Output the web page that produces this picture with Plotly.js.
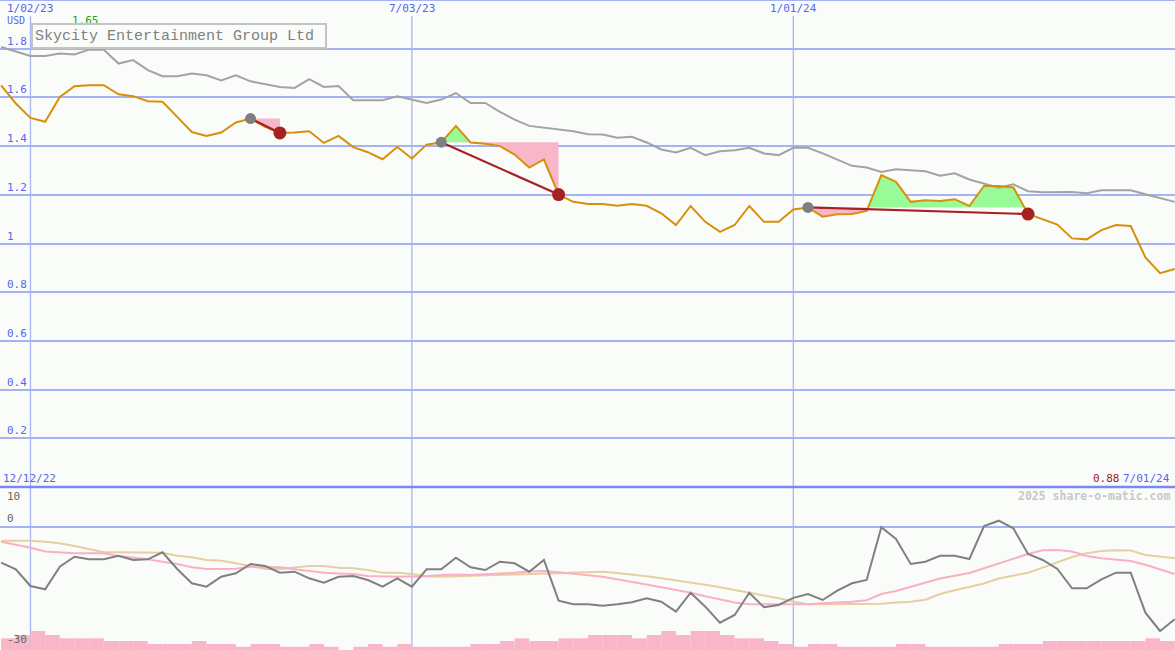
<!DOCTYPE html>
<html>
<head>
<meta charset="utf-8">
<script src="https://cdn.plot.ly/plotly-3.0.1.min.js"></script>
<style>
  html, body { margin: 0; padding: 0; background: #fafcfa; }
  #chart { width: 1175px; height: 650px; }
</style>
</head>
<body>
<div id="chart"></div>
<script>
// ---------------- data ----------------
const dates = [
  '2022-12-19','2022-12-26','2023-01-02','2023-01-09','2023-01-16','2023-01-23','2023-01-30',
  '2023-02-06','2023-02-13','2023-02-20','2023-02-27','2023-03-06','2023-03-13','2023-03-20','2023-03-27',
  '2023-04-03','2023-04-10','2023-04-17','2023-04-24','2023-05-01','2023-05-08','2023-05-15','2023-05-22','2023-05-29',
  '2023-06-05','2023-06-12','2023-06-19','2023-06-26','2023-07-03','2023-07-10','2023-07-17','2023-07-24','2023-07-31',
  '2023-08-07','2023-08-14','2023-08-21','2023-08-28','2023-09-04','2023-09-11','2023-09-18','2023-09-25',
  '2023-10-02','2023-10-09','2023-10-16','2023-10-23','2023-10-30','2023-11-06','2023-11-13','2023-11-20','2023-11-27',
  '2023-12-04','2023-12-11','2023-12-18','2023-12-25','2024-01-01','2024-01-08','2024-01-15','2024-01-22','2024-01-29',
  '2024-02-05','2024-02-12','2024-02-19','2024-02-26','2024-03-04','2024-03-11','2024-03-18','2024-03-25',
  '2024-04-01','2024-04-08','2024-04-15','2024-04-22','2024-04-29','2024-05-06','2024-05-13','2024-05-20','2024-05-27',
  '2024-06-03','2024-06-10','2024-06-17','2024-06-24','2024-07-01'
];

// share price (USD)
const price = [
  1.649,1.575,1.516,1.500,1.602,1.646,1.650,1.650,1.613,1.605,
  1.584,1.582,1.520,1.458,1.442,1.456,1.497,1.513,1.479,1.454,
  1.456,1.461,1.413,1.442,1.396,1.375,1.346,1.396,1.349,1.406,
  1.416,1.483,1.415,1.410,1.400,1.365,1.312,1.345,1.201,1.171,
  1.162,1.162,1.155,1.162,1.155,1.124,1.076,1.154,1.089,1.048,
  1.076,1.154,1.089,1.089,1.140,1.148,1.110,1.120,1.121,1.134,
  1.281,1.253,1.171,1.178,1.175,1.182,1.154,1.236,1.236,1.230,
  1.121,1.100,1.078,1.021,1.017,1.055,1.076,1.072,0.943,0.878,
  0.895
];

// comparison index (scaled)
const indexLine = [
  1.807,1.787,1.770,1.770,1.780,1.776,1.796,1.796,1.739,1.753,
  1.712,1.687,1.687,1.698,1.691,1.670,1.691,1.666,1.653,1.643,
  1.639,1.675,1.643,1.647,1.588,1.588,1.588,1.605,1.591,1.577,
  1.591,1.618,1.577,1.577,1.541,1.509,1.483,1.475,1.470,1.461,
  1.449,1.448,1.434,1.438,1.415,1.386,1.374,1.393,1.363,1.379,
  1.383,1.393,1.370,1.363,1.393,1.393,1.370,1.346,1.319,1.312,
  1.294,1.305,1.301,1.297,1.278,1.288,1.263,1.247,1.229,1.243,
  1.215,1.210,1.212,1.212,1.206,1.219,1.219,1.219,1.202,1.188,
  1.171
];

// lower panel: oscillator and its two averages
const oscillator = [
  -8.78,-10.42,-14.57,-15.38,-9.78,-7.30,-7.94,-7.94,-7.05,-8.11,
  -7.94,-6.20,-10.35,-13.90,-14.74,-12.26,-11.41,-9.11,-9.60,-11.27,
  -11.02,-12.66,-13.75,-12.26,-12.08,-13.08,-14.74,-12.66,-14.74,-10.42,
  -10.42,-7.54,-9.93,-10.60,-8.54,-8.93,-11.02,-8.11,-18.21,-19.11,
  -19.11,-19.45,-19.11,-18.61,-17.62,-18.46,-20.94,-16.23,-19.70,-23.67,
  -21.76,-16.23,-19.85,-19.28,-17.50,-16.55,-18.04,-15.73,-13.90,-13.08,
  0.00,-2.90,-9.11,-8.54,-7.05,-7.05,-7.87,0.32,1.64,-0.25,
  -6.63,-8.11,-10.35,-15.14,-15.14,-12.90,-11.27,-11.27,-21.19,-25.73,
  -22.83
];
const avgFast = [
  -3.57,-4.27,-5.06,-6.00,-6.30,-6.45,-6.45,-6.45,-7.12,-7.49,
  -7.94,-8.54,-9.11,-9.93,-10.35,-10.35,-10.27,-9.78,-9.78,-9.93,
  -10.42,-10.84,-11.27,-11.46,-11.59,-12.08,-12.21,-12.26,-12.21,-12.13,
  -11.84,-11.71,-11.84,-11.71,-11.51,-11.27,-10.97,-10.84,-11.17,-11.46,
  -11.91,-12.28,-12.88,-13.52,-14.19,-14.89,-15.56,-16.23,-17.12,-17.97,
  -18.66,-19.11,-19.11,-19.11,-19.11,-19.11,-18.86,-18.66,-18.49,-18.09,
  -16.55,-15.81,-14.81,-13.75,-12.73,-12.03,-11.34,-10.17,-8.98,-7.74,
  -6.63,-5.71,-5.63,-6.00,-7.12,-7.69,-7.94,-8.36,-9.28,-10.35,
  -11.59
];
const avgSlow = [
  -3.33,-3.33,-3.33,-3.57,-3.97,-4.64,-5.51,-6.20,-6.20,-6.20,
  -6.20,-6.30,-7.05,-7.44,-8.11,-8.29,-8.93,-9.73,-10.35,-10.35,
  -10.02,-9.60,-9.60,-10.02,-10.17,-10.60,-11.27,-11.27,-11.59,-12.16,
  -12.26,-12.16,-12.08,-11.96,-11.79,-11.64,-11.59,-11.59,-11.46,-11.34,
  -11.17,-11.02,-11.34,-11.66,-12.16,-12.66,-13.15,-13.65,-14.27,-14.89,
  -15.56,-16.18,-16.87,-17.62,-18.41,-19.11,-19.11,-19.11,-19.11,-19.03,
  -18.98,-18.66,-18.46,-17.99,-16.55,-15.63,-14.81,-13.95,-12.70,-11.96,
  -11.27,-10.02,-8.68,-7.37,-6.45,-5.88,-5.68,-5.76,-6.87,-7.37,
  -7.69
];
// weekly volume (relative units)
const volume = [
  11.7,15,19,15,11.7,11.7,11.7,9,9,9,
  6,6,6,9,6,6,3.3,6,6,3.3,
  3.3,6,3.3,0,3.3,6,3.3,6,3.3,3.3,
  3.3,3.3,6,6,9,11.7,9,9,11.7,11.7,
  15,15,15,11.7,15,19,15,19,19,15,
  11.7,11.7,9,6,3.3,6,6,3.3,3.3,3.3,
  3.3,6,6,3.3,3.3,3.3,3.3,3.3,6,6,
  6,9,9,9,9,9,9,9,11.7,9,
  9
];

// trade signals (entry -> exit)
const signalStart = ['2023-04-17','2023-07-17','2024-01-08'];
const signalEnd   = ['2023-05-01','2023-09-11','2024-04-22'];

// labels
const chartTitle = 'Skycity Entertainment Group Ltd';
const currency = 'USD';
const xTickDates  = ['2023-01-02','2023-07-03','2024-01-01'];
const xTickLabels = ['1/02/23','7/03/23','1/01/24'];
const yTickVals   = [1.8,1.6,1.4,1.2,1,0.8,0.6,0.4,0.2];
const yTickLabels = ['1.8','1.6','1.4','1.2','1','0.8','0.6','0.4','0.2'];
const y2TickVals   = [10,0,-30];
const y2TickLabels = ['10','0','-30'];
const firstLabel = '12/12/22';
const lastLabel = '7/01/24';
const credit = '2025 share-o-matic.com';

// ---------------- styling ----------------
const BG = '#fafcfa';
const GRID = '#a5b3f2';
const VGRID = '#a8b5f2';
const BLUE = '#5566ee';
const MONO = 'DejaVu Sans Mono, Liberation Mono, monospace';
const SPLIT = 163 / 650;
const PINK = '#f9b6c8';
const GREEN = '#98fb98';
const DARKRED = '#a52222';

// ---------------- traces ----------------
const traces = [];

// volume bars (bottom, base layer)
traces.push({
  type: 'bar', x: dates, y: volume, xaxis: 'x', yaxis: 'y2',
  width: 7 * 86400000, offset: 0,
  marker: { color: PINK, line: { width: 0 } }, hoverinfo: 'skip'
});

// oscillator lines
traces.push({ type: 'scatter', mode: 'lines', x: dates, y: avgSlow, xaxis: 'x', yaxis: 'y3',
  line: { color: '#e6cfa0', width: 2 }, hoverinfo: 'skip' });
traces.push({ type: 'scatter', mode: 'lines', x: dates, y: avgFast, xaxis: 'x', yaxis: 'y3',
  line: { color: '#f9b0c6', width: 2 }, hoverinfo: 'skip' });
traces.push({ type: 'scatter', mode: 'lines', x: dates, y: oscillator, xaxis: 'x', yaxis: 'y3',
  line: { color: '#808080', width: 2 }, hoverinfo: 'skip' });

// signal fills
function fmt(ms) { return new Date(ms).toISOString().slice(0, 19).replace('T', ' '); }
signalStart.forEach((sd, n) => {
  const i0 = dates.indexOf(sd), i1 = dates.indexOf(signalEnd[n]);
  const ref = price[i0];
  const pts = [];
  for (let i = i0; i <= i1; i++) {
    const t = Date.parse(dates[i]);
    pts.push([t, price[i]]);
    if (i < i1) {
      const a = price[i] - ref, b = price[i + 1] - ref;
      if (a * b < 0) {
        const t2 = Date.parse(dates[i + 1]);
        const f = a / (a - b);
        pts.push([t + f * (t2 - t), ref]);
      }
    }
  }
  const xs = pts.map(p => fmt(p[0]));
  const back = xs.slice().reverse();
  const refs = xs.map(() => ref);
  traces.push({ type: 'scatter', mode: 'lines', fill: 'toself', fillcolor: GREEN,
    x: xs.concat(back), y: pts.map(p => Math.max(p[1], ref)).concat(refs),
    line: { width: 0, color: GREEN }, hoverinfo: 'skip' });
  traces.push({ type: 'scatter', mode: 'lines', fill: 'toself', fillcolor: PINK,
    x: xs.concat(back), y: pts.map(p => Math.min(p[1], ref)).concat(refs),
    line: { width: 0, color: PINK }, hoverinfo: 'skip' });
});

// index and price
traces.push({ type: 'scatter', mode: 'lines', x: dates, y: indexLine,
  line: { color: '#a3a3a3', width: 2 }, hoverinfo: 'skip' });
traces.push({ type: 'scatter', mode: 'lines', x: dates, y: price,
  line: { color: '#d8900a', width: 2 }, hoverinfo: 'skip' });

// signal lines and markers
signalStart.forEach((sd, n) => {
  const i0 = dates.indexOf(sd), i1 = dates.indexOf(signalEnd[n]);
  traces.push({ type: 'scatter', mode: 'lines', x: [dates[i0], dates[i1]], y: [price[i0], price[i1]],
    line: { color: DARKRED, width: 2.2 }, hoverinfo: 'skip' });
  traces.push({ type: 'scatter', mode: 'markers', x: [dates[i0]], y: [price[i0]],
    marker: { color: '#7f7f7f', size: 11 }, hoverinfo: 'skip' });
  traces.push({ type: 'scatter', mode: 'markers', x: [dates[i1]], y: [price[i1]],
    marker: { color: DARKRED, size: 13 }, hoverinfo: 'skip' });
});

// ---------------- annotations ----------------
const ann = [];
yTickVals.forEach((v, i) => ann.push({
  xref: 'paper', yref: 'y', x: 0.004, y: v, xanchor: 'left', yanchor: 'bottom', yshift: -1,
  text: yTickLabels[i], showarrow: false, font: { family: MONO, size: 11, color: BLUE }
}));
y2TickVals.forEach((v, i) => ann.push({
  xref: 'paper', yref: 'y3', x: 0.004, y: v, xanchor: 'left',
  yanchor: i === 0 ? 'top' : 'bottom', yshift: i === 0 ? -1 : 0,
  text: y2TickLabels[i], showarrow: false, font: { family: MONO, size: 11, color: '#666666' }
}));
xTickDates.forEach((d, i) => ann.push({
  xref: 'x', yref: 'paper', x: d, y: 1 - 8 / 650, xanchor: 'center', yanchor: 'middle',
  text: xTickLabels[i], showarrow: false,
  font: { family: MONO, size: 11, color: BLUE }
}));
ann.push({ xref: 'paper', yref: 'paper', x: 0.004, y: 1 - 20 / 650, xanchor: 'left', yanchor: 'middle',
  text: currency, showarrow: false, font: { family: MONO, size: 10, color: BLUE } });
const hi = Math.max(...price), lo = Math.min(...price);
ann.push({ xref: 'paper', yref: 'paper', x: 70 / 1175, y: 1 - 20 / 650, xanchor: 'left', yanchor: 'middle',
  text: hi.toFixed(2), showarrow: false, font: { family: MONO, size: 11, color: '#22a022' } });
ann.push({ xref: 'paper', yref: 'paper', x: 31 / 1175, y: 1 - 36 / 650, xanchor: 'left', yanchor: 'middle',
  text: chartTitle, showarrow: false, align: 'left', width: 288, height: 18,
  bgcolor: BG, bordercolor: '#c4c4c4', borderwidth: 2, borderpad: 2,
  font: { family: 'Liberation Mono, DejaVu Sans Mono, monospace', size: 15, color: '#808080' } });
ann.push({ xref: 'paper', yref: 'paper', x: 1 / 1175, y: (650 - 478.5) / 650, xanchor: 'left', yanchor: 'middle',
  text: firstLabel, showarrow: false, font: { family: MONO, size: 11, color: BLUE } });
ann.push({ xref: 'paper', yref: 'paper', x: 1172 / 1175, y: (650 - 478.5) / 650, xanchor: 'right', yanchor: 'middle',
  text: lastLabel, showarrow: false, font: { family: MONO, size: 11, color: BLUE } });
ann.push({ xref: 'paper', yref: 'paper', x: 1122 / 1175, y: (650 - 478.5) / 650, xanchor: 'right', yanchor: 'middle',
  text: lo.toFixed(2), showarrow: false, font: { family: MONO, size: 11, color: '#a02020' } });
ann.push({ xref: 'paper', yref: 'paper', x: 1172 / 1175, y: (650 - 496) / 650, xanchor: 'right', yanchor: 'middle',
  text: '<b>' + credit + '</b>', showarrow: false, font: { family: MONO, size: 11.5, color: '#c8c8c8' } });

// vertical date lines (start just below the date labels)
const vlines = xTickDates.map(d => ({
  type: 'line', layer: 'below', xref: 'x', yref: 'paper', x0: d, x1: d, y0: 0, y1: 1 - 16 / 650,
  line: { color: VGRID, width: 1.3 }
}));

// ---------------- layout ----------------
const layout = {
  width: 1175, height: 650,
  margin: { l: 0, r: 0, t: 0, b: 0, pad: 0 },
  paper_bgcolor: BG, plot_bgcolor: BG,
  showlegend: false,
  xaxis: {
    type: 'date', range: ['2022-12-18 11:00', '2024-07-01 03:00'],
    showticklabels: false, ticks: '', showgrid: false,
    zeroline: false, showline: false, fixedrange: true
  },
  yaxis: {
    domain: [SPLIT, 1], range: [0, 2], tick0: 0, dtick: 0.2,
    showgrid: true, gridcolor: GRID, gridwidth: 2,
    showticklabels: false, ticks: '', zeroline: false, showline: false, fixedrange: true
  },
  yaxis2: {
    domain: [0, SPLIT], range: [0, 163],
    showgrid: false, showticklabels: false, ticks: '', zeroline: false, showline: false, fixedrange: true
  },
  yaxis3: {
    overlaying: 'y2', anchor: 'x', range: [-30.45, 10], tickvals: [0],
    showgrid: true, gridcolor: GRID, gridwidth: 2,
    showticklabels: false, ticks: '', zeroline: false, showline: false, fixedrange: true
  },
  shapes: vlines.concat([
    { type: 'line', xref: 'paper', yref: 'paper', x0: 0, x1: 1, y0: SPLIT, y1: SPLIT,
      line: { color: '#7b89ee', width: 2.5 } },
    { type: 'line', xref: 'paper', yref: 'paper', x0: 0, x1: 1, y0: 1, y1: 1,
      line: { color: GRID, width: 2 } }
  ]),
  annotations: ann
};

Plotly.newPlot('chart', traces, layout, { displayModeBar: false, staticPlot: true });
</script>
</body>
</html>
